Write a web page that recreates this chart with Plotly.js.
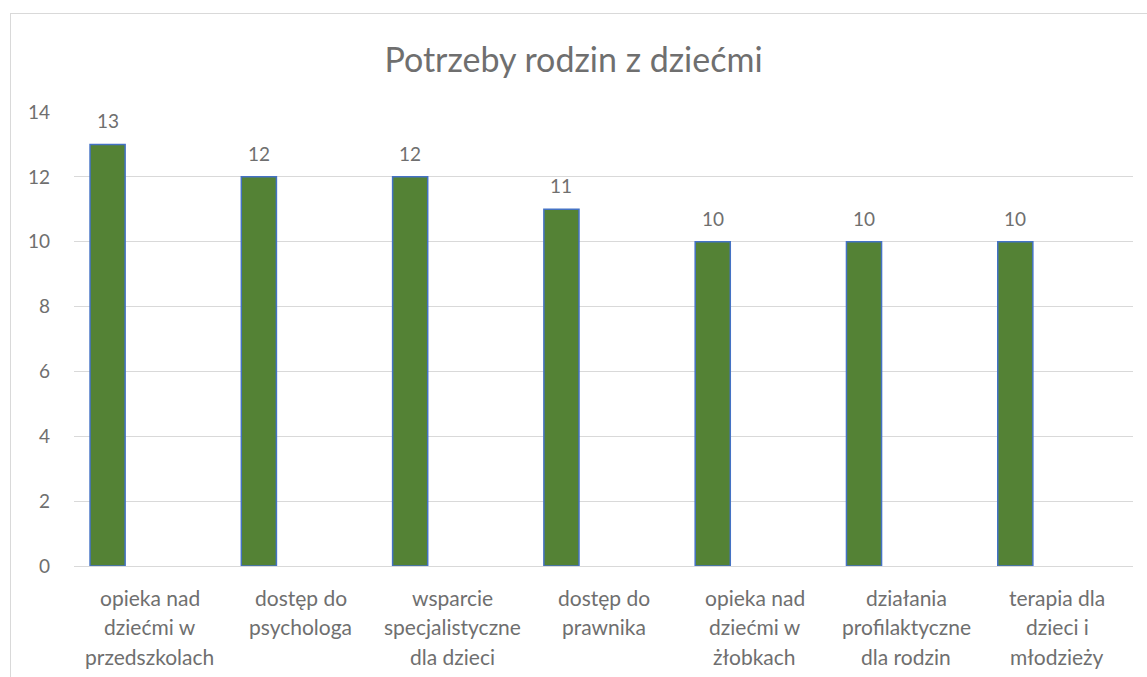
<!DOCTYPE html>
<html><head><meta charset="utf-8">
<script src="https://cdn.plot.ly/plotly-3.0.1.min.js"></script>
<style>
html,body{margin:0;padding:0;background:#fff;}
#wrap{position:relative;width:1147px;height:677px;overflow:hidden;}
#chart{position:absolute;left:0;top:0;width:1147px;height:677px;}
#frame{position:absolute;left:10px;top:13px;width:1200px;height:700px;border:1px solid #d9d9d9;pointer-events:none;}
</style></head>
<body><div id="wrap"><div id="chart"></div><div id="frame"></div></div>
<script>
const categories = [
  "opieka nad dziećmi w przedszkolach",
  "dostęp do psychologa",
  "wsparcie specjalistyczne dla dzieci",
  "dostęp do prawnika",
  "opieka nad dziećmi w żłobkach",
  "działania profilaktyczne dla rodzin",
  "terapia dla dzieci i młodzieży"
];
const labelLines = [
  ["opieka nad", "dziećmi w", "przedszkolach"],
  ["dostęp do", "psychologa"],
  ["wsparcie", "specjalistyczne", "dla dzieci"],
  ["dostęp do", "prawnika"],
  ["opieka nad", "dziećmi w", "żłobkach"],
  ["działania", "profilaktyczne", "dla rodzin"],
  ["terapia dla", "dzieci i", "młodzieży"]
];
const values = [13, 12, 12, 11, 10, 10, 10];
const yTicks = [0, 2, 4, 6, 8, 10, 12, 14];

const gray = "#6f6f6f";
const font = "Lato, 'Open Sans', sans-serif";
const barOffset = -0.394, barWidth = 0.232;

const annotations = [];
values.forEach((v, i) => {
  annotations.push({
    x: i + barOffset + barWidth / 2, y: v, xref: "x", yref: "y",
    text: String(v), showarrow: false, yanchor: "bottom", yshift: 10,
    font: {family: font, size: 19, color: gray}
  });
});
labelLines.forEach((lines, i) => {
  lines.forEach((ln, k) => {
    annotations.push({
      x: i, y: 0, xref: "x", yref: "y", text: ln, showarrow: false,
      yanchor: "middle", yshift: -31 - k * 29.5,
      font: {family: font, size: 21, color: gray}
    });
  });
});

Plotly.newPlot("chart", [{
  type: "bar",
  x: categories,
  y: values,
  offset: barOffset,
  width: barWidth,
  marker: {color: "#548235", line: {color: "#4472C4", width: 1.5}},
  hoverinfo: "skip"
}], {
  width: 1147, height: 677,
  margin: {l: 74, r: 14, t: 112, b: 111},
  paper_bgcolor: "#fff", plot_bgcolor: "#fff",
  title: {text: "Potrzeby rodzin z dziećmi", x: 0.5, xanchor: "center", y: 0.911, yanchor: "middle",
          font: {family: font, size: 34, color: gray}},
  showlegend: false,
  xaxis: {type: "category", showticklabels: false, ticks: "", showgrid: false, zeroline: false,
          showline: true, linecolor: "#d9d9d9", linewidth: 1, fixedrange: true},
  yaxis: {range: [0, 14], tickvals: yTicks, ticktext: yTicks.map(String), ticks: "",
          showgrid: true, gridcolor: "#d9d9d9", gridwidth: 1, zeroline: false, showline: false,
          ticklabelstandoff: 23, tickfont: {family: font, size: 19, color: gray}, fixedrange: true},
  annotations: annotations
}, {displayModeBar: false, staticPlot: true});
</script></body></html>
